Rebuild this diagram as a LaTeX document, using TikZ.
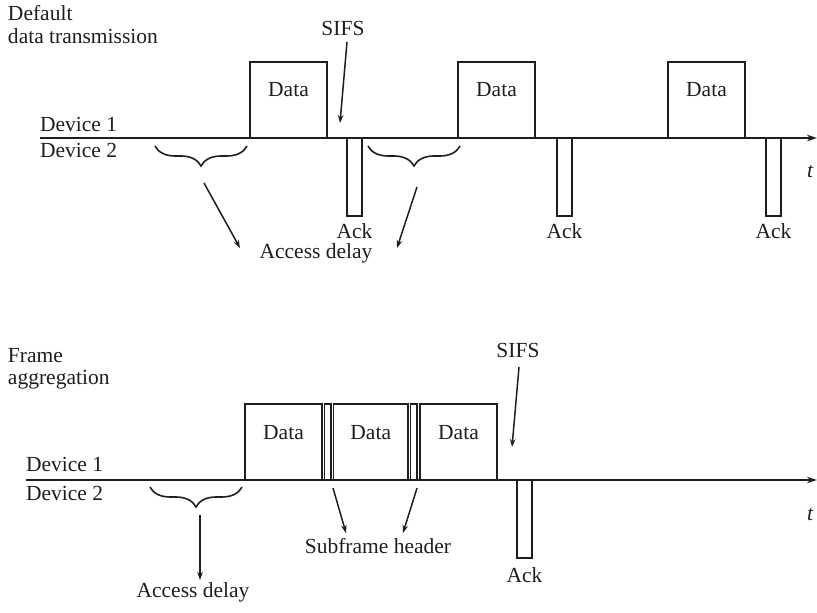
\documentclass[tikz,border=0pt]{standalone}
\usepackage{fontspec}
\setmainfont{Liberation Serif}
\usetikzlibrary{arrows.meta,decorations.pathreplacing}
\definecolor{ink}{HTML}{1E1E1E}
\begin{document}
\begin{tikzpicture}[x=0.5pt,y=-0.5pt,
  every node/.style={font=\fontsize{10.75}{13}\selectfont, text=ink, inner sep=0pt, outer sep=0pt},
  databox/.style={draw=ink, line width=0.85pt, minimum width=38.5pt, minimum height=38pt, anchor=south west},
  hdrbox/.style={draw=ink, line width=0.8pt, minimum width=3.25pt, minimum height=38pt, anchor=south west},
  ackbox/.style={draw=ink, line width=0.85pt, minimum width=7.5pt, minimum height=39pt, anchor=north west},
  axis/.style={draw=ink, line width=1.1pt, -{Stealth[length=5pt,width=3.2pt]}},
  ptr/.style={draw=ink, line width=0.75pt, -{Stealth[length=4pt,width=2.8pt]}},
  bracestyle/.style={draw=ink, line width=0.8pt, decorate, decoration={brace, mirror, amplitude=10pt}},
  lbl/.style={anchor=base},
  lbll/.style={anchor=base west}]
\useasboundingbox (0,0) rectangle (817,613);

% ---------------- top: default data transmission ----------------
\node[lbll] (tt1) at (8,21) {Default};
\node[lbll] (tt2) at (8,44) {data transmission};
\node[lbll] (dev1a) at (40,132) {Device 1};
\node[lbll] (dev2a) at (40,158) {Device 2};

\coordinate (a1s) at (40,138);
\coordinate (a1e) at (817,138);
\draw[axis] (a1s) -- (a1e);
\node[lbll] (ta) at (807,178) {\itshape t};

\node[databox] (d1) at (250,138) {};
\node[databox] (d2) at (458,138) {};
\node[databox] (d3) at (668,138) {};
\foreach \b in {d1,d2,d3}
  \node[lbl] (\b t) at ([yshift=-17.5pt]\b.north) {Data};

\node[ackbox] (k1) at (347,138) {};
\node[ackbox] (k2) at (557,138) {};
\node[ackbox] (k3) at (766,138) {};
\foreach \b in {k1,k2,k3}
  \node[lbl] (\b t) at ([yshift=-11.5pt]\b.south) {Ack};

\node[lbl] (sifs1) at (343,36) {SIFS};
\coordinate (s1a) at (347,42);
\coordinate (s1b) at (340,123);
\draw[ptr] (s1a) -- (s1b);

\coordinate (b1l) at (155,146);
\coordinate (b1r) at (247,146);
\coordinate (b2l) at (368,146);
\coordinate (b2r) at (460,146);
\draw[bracestyle] (b1l) -- (b1r);
\draw[bracestyle] (b2l) -- (b2r);

\node[lbl] (acc1) at (316,259) {Access delay};
\coordinate (p1a) at (204,183);
\coordinate (p1b) at (240,248);
\coordinate (p2a) at (417,187);
\coordinate (p2b) at (397,248);
\draw[ptr] (p1a) -- (p1b);
\draw[ptr] (p2a) -- (p2b);

% ---------------- bottom: frame aggregation ----------------
\node[lbll] (bt1) at (8,363) {Frame};
\node[lbll] (bt2) at (8,385) {aggregation};
\node[lbll] (dev1b) at (26,472) {Device 1};
\node[lbll] (dev2b) at (26,500) {Device 2};

\coordinate (a2s) at (26,480);
\coordinate (a2e) at (817,480);
\draw[axis] (a2s) -- (a2e);
\node[lbll] (tb) at (807,520) {\itshape t};

\node[databox] (e1) at (245,480) {};
\node[hdrbox] (h1) at (324.5,480) {};
\node[databox, minimum width=37.25pt] (e2) at (333.5,480) {};
\node[hdrbox] (h2) at (410.5,480) {};
\node[databox] (e3) at (420,480) {};
\foreach \b in {e1,e2,e3}
  \node[lbl] (\b t) at ([yshift=-17.5pt]\b.north) {Data};

\node[ackbox] (q1) at (517,480) {};
\node[lbl] (q1t) at ([yshift=-12pt]q1.south) {Ack};

\node[lbl] (sifs2) at (518,358) {SIFS};
\coordinate (s2a) at (519,367);
\coordinate (s2b) at (512,447);
\draw[ptr] (s2a) -- (s2b);

\coordinate (b3l) at (150,487);
\coordinate (b3r) at (242,487);
\draw[bracestyle] (b3l) -- (b3r);
\coordinate (p3a) at (200,515);
\coordinate (p3b) at (200,580);
\draw[ptr] (p3a) -- (p3b);
\node[lbl] (acc2) at (193,597) {Access delay};

\node[lbl] (sub) at (378,553) {Subframe header};
\coordinate (p4a) at (333,488);
\coordinate (p4b) at (346,533);
\coordinate (p5a) at (417,488);
\coordinate (p5b) at (403,533);
\draw[ptr] (p4a) -- (p4b);
\draw[ptr] (p5a) -- (p5b);
\end{tikzpicture}
\end{document}
